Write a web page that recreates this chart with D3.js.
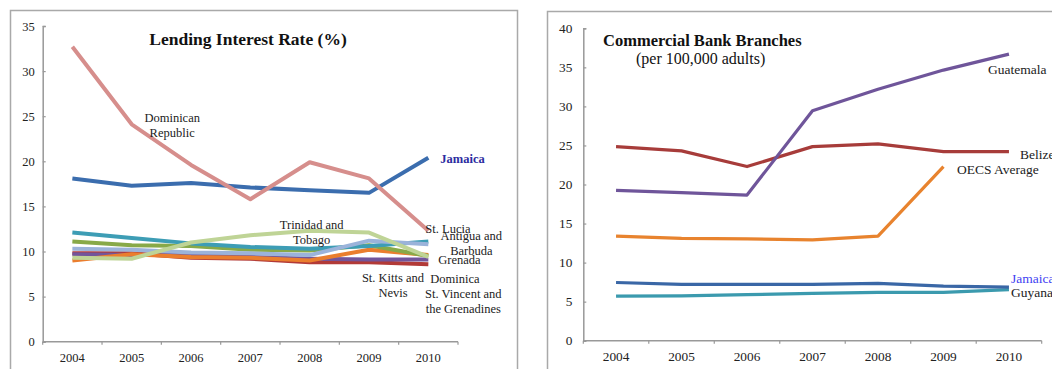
<!DOCTYPE html>
<html>
<head>
<meta charset="utf-8">
<script src="https://cdn.jsdelivr.net/npm/d3@7"></script>
<style>
  html, body { margin: 0; padding: 0; background: #fff; }
  svg { display: block; font-family: "Liberation Serif", "Times New Roman", serif; }
</style>
</head>
<body>
<svg id="chart" width="1052" height="369"></svg>
<script>
// ---- Lending interest rate (%) ----
const years = ["2004", "2005", "2006", "2007", "2008", "2009", "2010"];
const rateTicks = [0, 5, 10, 15, 20, 25, 30, 35];

const rateStVincent  = [9.8, 9.8, 9.3, 9.2, 8.8, 8.8, 8.6];
const rateDominica   = [9.7, 9.6, 9.6, 9.4, 9.2, 9.1, 9.1];
const rateStKitts    = [9.0, 9.7, 9.4, 9.3, 9.0, 10.2, 9.6];
const rateAntigua    = [10.3, 10.2, 9.9, 9.8, 9.6, 11.2, 10.8];
const rateGrenada    = [11.1, 10.7, 10.6, 10.2, 10.1, 10.7, 9.5];
const rateStLucia    = [12.1, 11.5, 10.9, 10.5, 10.3, 10.6, 11.1];
const rateTrinidad   = [9.3, 9.2, 11.0, 11.8, 12.3, 12.1, 9.4];
const rateJamaica    = [18.1, 17.3, 17.6, 17.1, 16.8, 16.5, 20.4];
const rateDominicanR = [32.7, 24.1, 19.6, 15.8, 19.9, 18.1, 12.3];

// ---- Commercial bank branches (per 100,000 adults) ----
const branchTicks = [0, 5, 10, 15, 20, 25, 30, 35, 40];
const branchGuyana    = [5.7, 5.75, 5.9, 6.05, 6.2, 6.2, 6.55];
const branchJamaica   = [7.45, 7.2, 7.2, 7.2, 7.35, 7.0, 6.85];
const branchOECS      = [13.4, 13.1, 13.05, 12.9, 13.4, 22.3, null];
const branchBelize    = [24.85, 24.3, 22.3, 24.85, 25.2, 24.2, 24.2];
const branchGuatemala = [19.25, 18.95, 18.65, 29.45, 32.2, 34.65, 36.7];

const svg = d3.select("#chart");

// panel frames
svg.append("rect").attr("x", 10.5).attr("y", 10.5).attr("width", 507).attr("height", 380)
  .attr("fill", "none").attr("stroke", "#a9a9a9").attr("stroke-width", 1.5);
svg.append("rect").attr("x", 547.5).attr("y", 11.5).attr("width", 540).attr("height", 380)
  .attr("fill", "none").attr("stroke", "#a9a9a9").attr("stroke-width", 1.5);

function drawPanel(cfg) {
  const g = svg.append("g");
  const x = d3.scaleBand().domain(years).range([cfg.left, cfg.right]).padding(0);
  const y = d3.scaleLinear().domain([0, cfg.max]).range([cfg.bottom, cfg.top]);
  const cx = yr => x(yr) + x.bandwidth() / 2;

  // y axis, ticks pointing inward
  const ya = g.append("g").attr("transform", `translate(${cfg.left},0)`)
    .call(d3.axisLeft(y).tickValues(cfg.ticks).tickSize(-3).tickPadding(cfg.yPad));
  ya.select(".domain").attr("stroke", "#999").attr("stroke-width", 1.5);
  ya.selectAll(".tick line").attr("stroke", "#999").attr("stroke-width", 1.2);
  ya.selectAll(".tick text").attr("font-family", "Liberation Serif").attr("font-size", cfg.tickFont)
    .attr("fill", "#222");

  // x axis line with ticks on band boundaries
  g.append("line").attr("x1", cfg.left).attr("x2", cfg.right)
    .attr("y1", cfg.bottom).attr("y2", cfg.bottom).attr("stroke", "#999").attr("stroke-width", 1.5);
  const bounds = years.map(yr => x(yr)).concat([cfg.right]);
  g.selectAll(".xt").data(bounds).enter().append("line")
    .attr("x1", d => d).attr("x2", d => d)
    .attr("y1", cfg.bottom).attr("y2", cfg.bottom + 3)
    .attr("stroke", "#999").attr("stroke-width", 1.2);
  g.selectAll(".xl").data(years).enter().append("text")
    .attr("x", d => cx(d)).attr("y", cfg.bottom + 20)
    .attr("text-anchor", "middle").attr("font-size", cfg.tickFont).attr("fill", "#222")
    .text(d => d);

  // series
  const line = d3.line()
    .defined(d => d != null)
    .x((d, i) => cx(years[i]))
    .y(d => y(d));
  cfg.series.forEach(s => {
    g.append("path").datum(s.values)
      .attr("d", line)
      .attr("fill", "none")
      .attr("stroke", s.color)
      .attr("stroke-width", cfg.lineWidth)
      .attr("stroke-linejoin", "round");
  });

  // series labels
  cfg.labels.forEach(l => {
    const t = g.append("text")
      .attr("x", cx(l.year) + l.dx)
      .attr("y", y(l.value))
      .attr("dy", "0.35em")
      .attr("text-anchor", l.anchor || "start")
      .attr("font-size", cfg.labelFont)
      .attr("font-weight", l.bold ? "bold" : "normal")
      .attr("fill", l.color || "#222");
    l.lines.forEach((txt, i) => {
      t.append("tspan").attr("x", cx(l.year) + l.dx).attr("dy", i === 0 ? "0.35em" : cfg.lineGap)
        .text(txt);
    });
  });

  return g;
}

const left = drawPanel({
  left: 42.7, right: 458, top: 26, bottom: 341.7, max: 35,
  ticks: rateTicks, yPad: 8, tickFont: 12.5, labelFont: 12.5, lineGap: 14.5, lineWidth: 4,
  series: [
    { values: rateStVincent,  color: "#b23a37" },
    { values: rateDominica,   color: "#72559b" },
    { values: rateStKitts,    color: "#ea7e2e" },
    { values: rateGrenada,    color: "#88a948" },
    { values: rateStLucia,    color: "#3d9db5" },
    { values: rateAntigua,    color: "#9bb3da" },
    { values: rateTrinidad,   color: "#bfd496" },
    { values: rateJamaica,    color: "#3b6dae" },
    { values: rateDominicanR, color: "#d68e8c" }
  ],
  labels: [
    { lines: ["Dominican", "Republic"], year: "2005", dx: 40.5, value: 24.8, anchor: "middle" },
    { lines: ["Jamaica"], year: "2010", dx: 12, value: 20.35, bold: true, color: "#2c2ca0" },
    { lines: ["Trinidad and", "Tobago"], year: "2008", dx: 2, value: 12.94, anchor: "middle" },
    { lines: ["St. Lucia"], year: "2010", dx: -3, value: 12.5 },
    { lines: ["Antigua and", "Barbuda"], year: "2010", dx: 43, value: 11.72, anchor: "middle" },
    { lines: ["Grenada"], year: "2010", dx: 10, value: 9.06 },
    { lines: ["St. Kitts and", "Nevis"], year: "2009", dx: 24, value: 7.06, anchor: "middle" },
    { lines: ["Dominica"], year: "2010", dx: 2, value: 6.95 },
    { lines: ["St. Vincent and", "the Grenadines"], year: "2010", dx: 35, value: 5.29, anchor: "middle" }
  ]
});
left.append("text").attr("x", 248).attr("y", 45).attr("text-anchor", "middle")
  .attr("font-size", 17.5).attr("font-weight", "bold").attr("fill", "#111")
  .text("Lending Interest Rate (%)");

const right = drawPanel({
  left: 583.3, right: 1041.7, top: 28.3, bottom: 340.7, max: 40,
  ticks: branchTicks, yPad: 11, tickFont: 13.3, labelFont: 13.5, lineGap: 14.5, lineWidth: 3.2,
  series: [
    { values: branchGuyana,    color: "#3b9aae" },
    { values: branchJamaica,   color: "#3a67a6" },
    { values: branchOECS,      color: "#e8832e" },
    { values: branchBelize,    color: "#a73c3a" },
    { values: branchGuatemala, color: "#6f559a" }
  ],
  labels: [
    { lines: ["Guatemala"], year: "2010", dx: -21, value: 34.8 },
    { lines: ["Belize"], year: "2010", dx: 11, value: 23.9 },
    { lines: ["OECS Average"], year: "2010", dx: -52, value: 22.0 },
    { lines: ["Jamaica"], year: "2010", dx: 2, value: 8.03, color: "#3f3ff2" },
    { lines: ["Guyana"], year: "2010", dx: 2, value: 6.25 }
  ]
});
right.append("text").attr("x", 603).attr("y", 46)
  .attr("font-size", 16.5).attr("font-weight", "bold").attr("fill", "#111")
  .text("Commercial Bank Branches");
right.append("text").attr("x", 636).attr("y", 64)
  .attr("font-size", 16).attr("fill", "#111")
  .text("(per 100,000 adults)");
</script>
</body>
</html>
